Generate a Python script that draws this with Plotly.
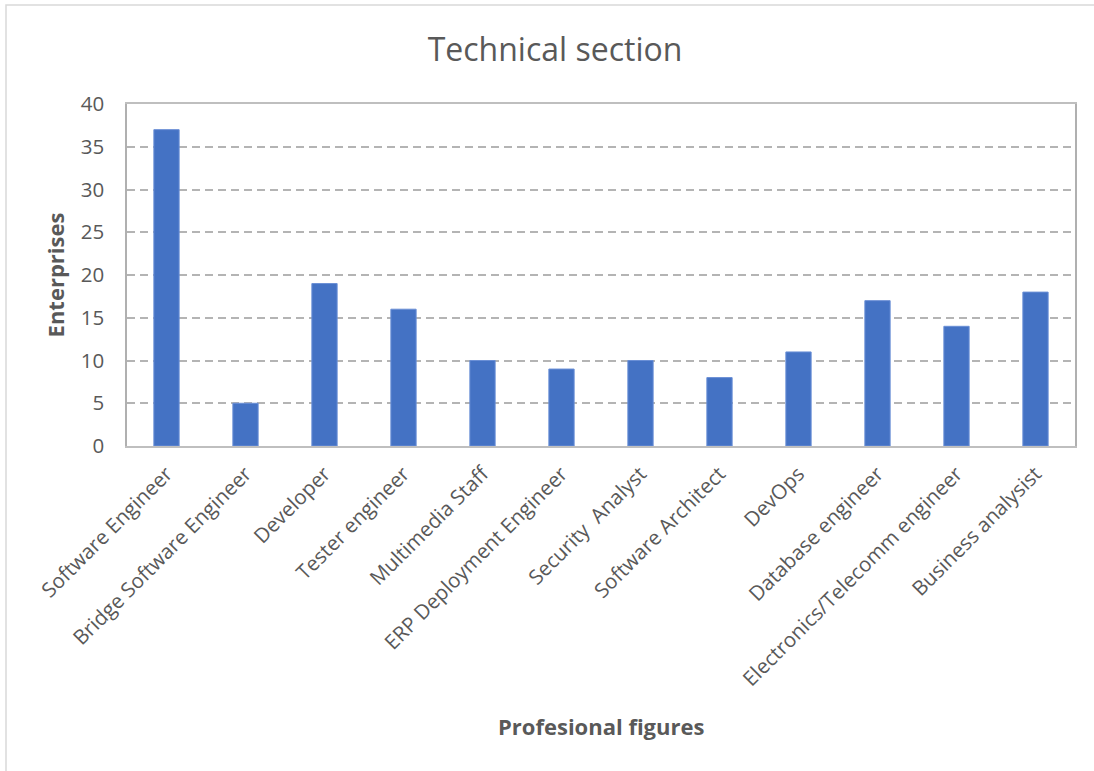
import plotly.graph_objects as go

# Professional profiles requested by enterprises
figures = [
    "Software Engineer",
    "Bridge Software Engineer",
    "Developer",
    "Tester engineer",
    "Multimedia Staff",
    "ERP Deployment Engineer",
    "Security  Analyst",
    "Software Architect",
    "DevOps",
    "Database engineer",
    "Electronics/Telecomm engineer",
    "Business analysist",
]
enterprises = [37, 5, 19, 16, 10, 9, 10, 8, 11, 17, 14, 18]
y_ticks = [0, 5, 10, 15, 20, 25, 30, 35, 40]

W, H = 1094, 771
L, R, T, B = 127, 19, 104, 325
pw, ph = W - L - R, H - T - B

text_col = "#595959"
grid_col = "#b4b4b4"
font = "Open Sans"

fig = go.Figure(
    go.Bar(
        x=figures,
        y=enterprises,
        width=0.32,
        marker=dict(color="#4472C4", line=dict(color="#6a8fd6", width=1)),
        hoverinfo="x+y",
    )
)

fig.update_layout(
    width=W,
    height=H,
    margin=dict(l=L, r=R, t=T, b=B),
    paper_bgcolor="white",
    plot_bgcolor="white",
    showlegend=False,
    font=dict(family=font, color=text_col, size=20),
    title=dict(
        text="Technical section",
        x=555 / W,
        xref="container",
        xanchor="center",
        y=1 - 50 / H,
        yref="container",
        yanchor="middle",
        font=dict(size=32, color=text_col, family=font),
    ),
)

fig.update_xaxes(
    tickangle=-45,
    showline=True,
    linecolor="#bfbfbf",
    linewidth=1.5,
    mirror=True,
    showgrid=False,
    ticks="",
    ticklabelstandoff=6,
    tickfont=dict(size=20.5, color=text_col),
)

fig.update_yaxes(
    range=[0, 40],
    tickvals=y_ticks,
    showline=True,
    linecolor="#b0b0b0",
    linewidth=1.5,
    mirror=True,
    showgrid=True,
    gridcolor=grid_col,
    griddash="8px,5px",
    gridwidth=1.5,
    zeroline=False,
    ticks="",
    ticklabelstandoff=17,
    tickfont=dict(size=20.5, color=text_col),
    title=dict(
        text="<b>Enterprises</b>",
        font=dict(size=22, color=text_col),
        standoff=10,
    ),
)

# X-axis title placed under the rotated category labels
fig.add_annotation(
    text="<b>Profesional figures</b>",
    xref="paper",
    yref="paper",
    x=0.5,
    y=(446 - 726) / ph,
    xanchor="center",
    yanchor="middle",
    showarrow=False,
    font=dict(size=22, color=text_col, family=font),
)

# Chart-area frame
fig.add_shape(
    type="rect",
    xref="paper",
    yref="paper",
    x0=(6 - L) / pw,
    x1=(W + 20 - L) / pw,
    y0=(446 - (H + 20)) / ph,
    y1=(446 - 5) / ph,
    line=dict(color="#d9d9d9", width=1.5),
    fillcolor="rgba(0,0,0,0)",
    layer="below",
)

fig.write_html("out.html")
